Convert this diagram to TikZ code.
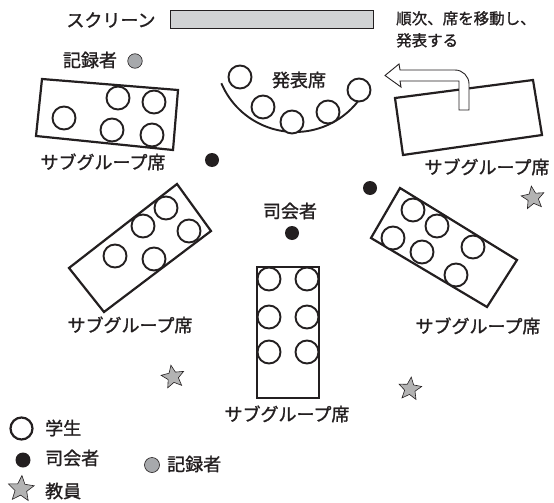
\documentclass[tikz,border=0pt]{standalone}
\usepackage{fontspec}
\setmainfont{Noto Sans CJK JP}[FakeBold=1.3]
\usetikzlibrary{shapes.geometric}
\definecolor{ink}{HTML}{231F20}
\definecolor{recgray}{HTML}{A7A9AC}
\definecolor{stargray}{HTML}{B3B3B3}
\definecolor{scrgray}{HTML}{D1D3D4}
\begin{document}
\begin{tikzpicture}[x=1pt,y=-1pt,
  tbl/.style={draw=ink, line width=2.2pt, line join=miter},
  stu/.style={circle, draw=ink, line width=1.9pt, fill=white, minimum size=23pt, inner sep=0pt},
  mcdot/.style={circle, fill=ink, minimum size=14pt, inner sep=0pt},
  recdot/.style={circle, fill=recgray, draw=ink, line width=0.6pt, minimum size=14.5pt, inner sep=0pt},
  tch/.style={star, star points=5, star point ratio=2.2, fill=stargray, draw=ink, line width=0.6pt, minimum size=24pt, inner sep=0pt},
  lbl/.style={font=\fontsize{18}{20}\selectfont, text=ink, inner sep=0pt},
  small/.style={font=\fontsize{15.5}{22}\selectfont, text=ink, inner sep=0pt, align=left},
]
\useasboundingbox (0,0) rectangle (554,503);

% screen
\node[lbl] (scrlbl) at (111,20) {スクリーン};
\draw[draw=ink, fill=scrgray, line width=0.9pt] (170,10) rectangle (373,28);

% top-right note
\node[small, anchor=north west] (note) at (396,11) {順次、席を移動し、\\発表する};

% recorder top
\node[lbl] (reclbl) at (90,60) {記録者};
\node[recdot] (rec1) at (135,61) {};

% top-left table
\draw[tbl] (42,79) -- (178,90) -- (173,150) -- (36,136) -- cycle;
\foreach \p [count=\i] in {(64,118),(118,98),(154,102),(112,130),(152,135)}
  \node[stu] (tl\i) at \p {};
\node[lbl] (tllbl) at (103,162) {サブグループ席};

% presentation seats
\draw[draw=ink, line width=1.9pt] (295,52) ++(157:80) arc[start angle=157, end angle=38, radius=80];
\foreach \p [count=\i] in {(240,77),(263,107),(292,122),(328,112),(359,90)}
  \node[stu] (ps\i) at \p {};
\node[lbl] (pslbl) at (299,80) {発表席};

% top-right table and arrow
\draw[tbl] (395,98) -- (533,80) -- (542,135) -- (403,155) -- cycle;
\draw[draw=ink, fill=white, line width=0.9pt, line join=miter]
  (459,110) -- (459,81) -- (400,81) -- (401,87) -- (385,75.5) -- (399,64) -- (400,70)
  -- (455,70) arc[start angle=-90, end angle=0, radius=14] -- (469,110) -- cycle;
\node[lbl] (trlbl) at (487,167) {サブグループ席};

% moderators
\node[mcdot] (mc1) at (212,160) {};
\node[mcdot] (mc2) at (370,188) {};
\node[lbl] (mclbl) at (290,211) {司会者};
\node[mcdot] (mc3) at (292,233) {};

% left-middle table
\draw[tbl] (177,184) -- (211,231) -- (104,312) -- (69,268) -- cycle;
\foreach \p [count=\i] in {(166,208),(143,226),(189,231),(115,256),(154,259)}
  \node[stu] (lm\i) at \p {};
\node[lbl] (lmlbl) at (130,325) {サブグループ席};

% right-middle table
\draw[tbl] (400,188) -- (517,260) -- (487,307) -- (371,238) -- cycle;
\foreach \p [count=\i] in {(413,210),(437,226),(393,238),(422,252),(473,247),(456,275)}
  \node[stu] (rm\i) at \p {};
\node[lbl] (rmlbl) at (478,326) {サブグループ席};

% center table
\draw[tbl] (257,267) rectangle (319,398);
\foreach \p [count=\i] in {(269,279),(307,279),(269,317),(307,317),(269,352),(307,352)}
  \node[stu] (ct\i) at \p {};
\node[lbl] (ctlbl) at (287,414) {サブグループ席};

% teachers
\node[tch, rotate=8] (t1) at (533,198) {};
\node[tch, rotate=10] (t2) at (173,377) {};
\node[tch, rotate=-6] (t3) at (410,389) {};

% legend
\node[stu, minimum size=22pt, line width=2.2pt] (lgs) at (21.5,428.5) {};
\node[lbl, anchor=west] (lgslbl) at (45,428) {学生};
\node[mcdot, minimum size=15pt] (lgm) at (23,460) {};
\node[lbl, anchor=west] (lgmlbl) at (45,458) {司会者};
\node[recdot, minimum size=15pt] (lgr) at (152,465) {};
\node[lbl, anchor=west] (lgrlbl) at (167,464) {記録者};
\node[tch, minimum size=27pt, rotate=-4] (lgt) at (21,489) {};
\node[lbl, anchor=west] (lgtlbl) at (45,491) {教員};
\end{tikzpicture}
\end{document}
